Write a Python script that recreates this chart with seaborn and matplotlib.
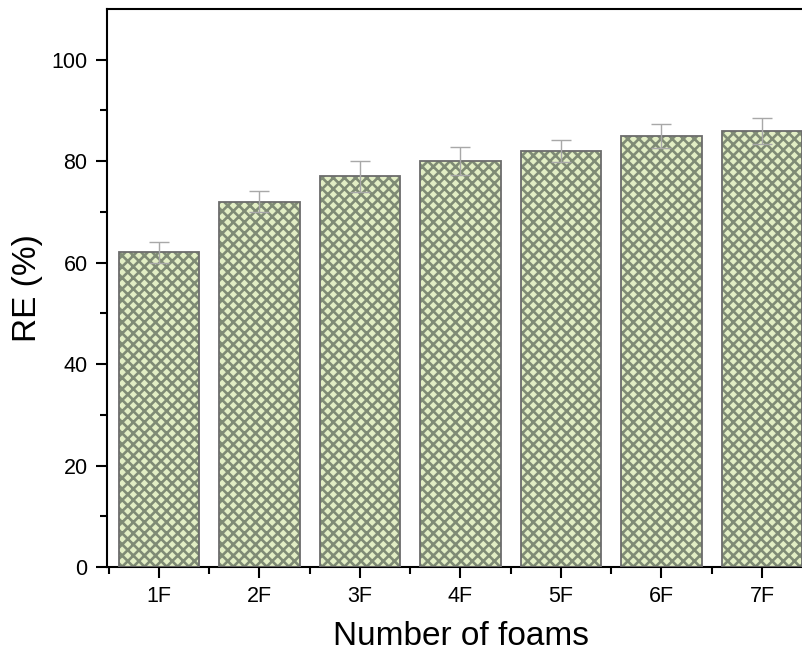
import matplotlib
matplotlib.use("Agg")
import matplotlib.pyplot as plt
import seaborn as sns
import pandas as pd
from matplotlib.ticker import FixedLocator

categories = ["1F", "2F", "3F", "4F", "5F", "6F", "7F"]
re_values = [62, 72, 77, 80, 82, 85, 86]
re_errors = [2.1, 2.1, 3.1, 2.7, 2.2, 2.4, 2.6]

sns.set_theme(style="ticks")
plt.rcParams['font.family'] = ['Liberation Sans', 'DejaVu Sans']
plt.rcParams['hatch.linewidth'] = 1.9

df = pd.DataFrame({"cat": categories, "RE": re_values})

fig = plt.figure(figsize=(8.03, 6.55), dpi=100)
# axes extends beyond the right edge, as in the reference
left_px, right_px = 107, 107 + 100.5 * 7.04
ax = fig.add_axes([left_px/803, (655-567)/655, (right_px-left_px)/803, (567-9)/655])

sns.barplot(data=df, x="cat", y="RE", ax=ax, color="#e2eec4", width=0.80,
            errorbar=None, saturation=1, linewidth=0)
for p in list(ax.patches):
    p.set_hatch("xxx")
    p.set_edgecolor("#7f8b75")
    p.set_facecolor("#e2eec4")
    p.set_linewidth(0)
    x0, y0 = p.get_x(), p.get_y()
    w, h = p.get_width(), p.get_height()
    ax.add_patch(plt.Rectangle((x0, y0), w, h, fill=False, edgecolor="#6c6c6c",
                               linewidth=1.3, zorder=3))

ax.errorbar(range(len(categories)), re_values, yerr=re_errors, fmt="none",
            ecolor="#a8a8a8", elinewidth=1.0, capsize=7, capthick=1.0, zorder=4)

ax.set_xlim(-0.517, 6.523)
ax.set_ylim(0, 110)
ax.yaxis.set_major_locator(FixedLocator([0, 20, 40, 60, 80, 100]))
ax.yaxis.set_minor_locator(FixedLocator([10, 30, 50, 70, 90]))
ax.xaxis.set_minor_locator(FixedLocator([i + 0.5 for i in range(-1, 7)]))

for s in ["left", "bottom", "top", "right"]:
    ax.spines[s].set_visible(True)
    ax.spines[s].set_linewidth(1.5)
    ax.spines[s].set_color("black")

ax.tick_params(axis="both", which="major", direction="out", length=8, width=1.5,
               labelsize=15.5, colors="black", pad=6)
ax.tick_params(axis="both", which="minor", direction="out", length=5, width=1.5, colors="black")
ax.tick_params(axis="x", which="both", top=False)
ax.tick_params(axis="y", which="both", right=False)

ax.set_xlabel("Number of foams", fontsize=24, color="black", labelpad=10)
ax.set_ylabel("RE (%)", fontsize=24, color="black", labelpad=6)

fig.savefig("out.png", dpi=100)
